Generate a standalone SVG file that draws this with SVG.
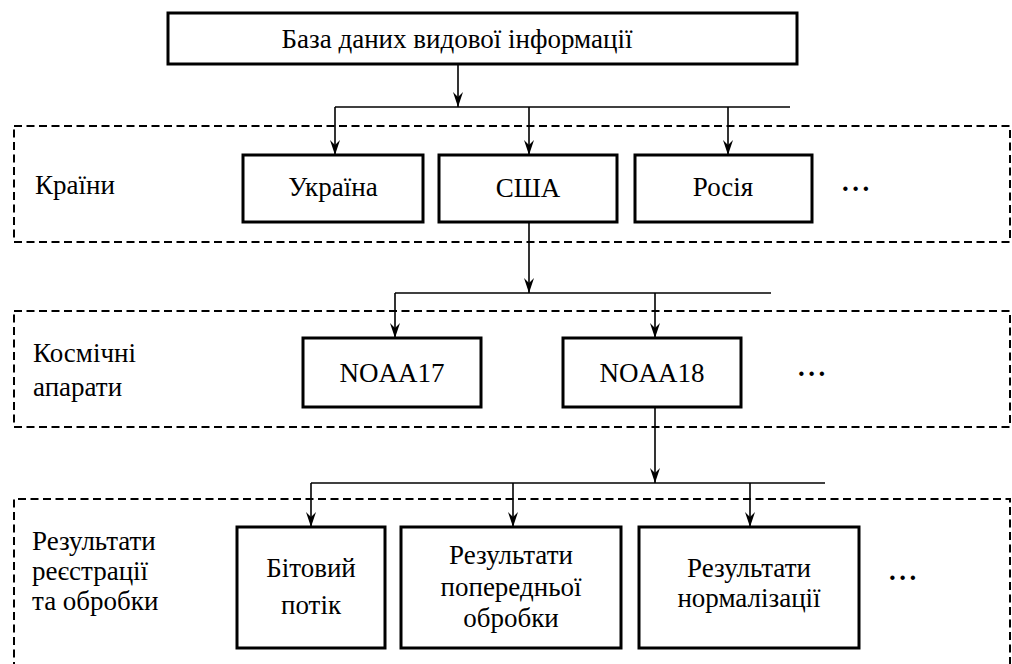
<svg xmlns="http://www.w3.org/2000/svg" width="1012" height="664" viewBox="0 0 1012 664">
<style>
text{font-family:"Liberation Serif","Times New Roman",serif;font-size:27px;fill:#000}
.c{text-anchor:middle}
.box{fill:#fff;stroke:#000;stroke-width:3}
.grp{fill:none;stroke:#000;stroke-width:2;stroke-dasharray:8 4.5}
.ln{fill:none;stroke:#000;stroke-width:1.6}
.dots{font-weight:bold;letter-spacing:3.5px}
</style>
<defs>
<marker id="ah" markerUnits="userSpaceOnUse" markerWidth="16" markerHeight="12" refX="15" refY="5" orient="auto" viewBox="0 0 16 10">
<path d="M0,0 L15,5 L0,10 L5,5 Z" fill="#000"/>
</marker>
</defs>
<rect width="1012" height="664" fill="#fff"/>
<g id="groups">
<rect class="grp" x="14" y="126" width="996" height="116"/>
<rect class="grp" x="14" y="311" width="996" height="116"/>
<path class="grp" d="M14,670 L14,499 L1010,499 L1010,670"/>
<text x="35" y="194">Країни</text>
<text x="33" y="362">Космічні</text>
<text x="33" y="396">апарати</text>
<text x="32" y="550">Результати</text>
<text x="32" y="580">реєстрації</text>
<text x="32" y="610">та обробки</text>
<text class="dots" x="842" y="191">...</text>
<text class="dots" x="798" y="376">...</text>
<text class="dots" x="889" y="580">...</text>
</g>
<g id="connectors">
<path class="ln" d="M458,64 L458,107" marker-end="url(#ah)"/>
<path class="ln" d="M335,107 L790,107"/>
<path class="ln" d="M335,107 L335,155" marker-end="url(#ah)"/>
<path class="ln" d="M529,107 L529,155" marker-end="url(#ah)"/>
<path class="ln" d="M728,107 L728,155" marker-end="url(#ah)"/>
<path class="ln" d="M529,222 L529,293" marker-end="url(#ah)"/>
<path class="ln" d="M395,293 L771,293"/>
<path class="ln" d="M395,293 L395,338" marker-end="url(#ah)"/>
<path class="ln" d="M655,293 L655,338" marker-end="url(#ah)"/>
<path class="ln" d="M655,407 L655,483" marker-end="url(#ah)"/>
<path class="ln" d="M311,483 L825,483"/>
<path class="ln" d="M311,483 L311,527" marker-end="url(#ah)"/>
<path class="ln" d="M513,483 L513,527" marker-end="url(#ah)"/>
<path class="ln" d="M750,483 L750,527" marker-end="url(#ah)"/>
</g>
<g id="db"><rect class="box" x="168" y="13" width="629" height="51"/><text class="c" x="457" y="48">База даних видової інформації</text></g>
<g id="ukraine"><rect class="box" x="243" y="155" width="180" height="67"/><text class="c" x="333" y="196">Україна</text></g>
<g id="usa"><rect class="box" x="439" y="155" width="178" height="67"/><text class="c" x="528" y="197">США</text></g>
<g id="russia"><rect class="box" x="635" y="155" width="177" height="67"/><text class="c" x="723" y="196">Росія</text></g>
<g id="noaa17"><rect class="box" x="303" y="338" width="178" height="69"/><text class="c" x="392" y="382">NOAA17</text></g>
<g id="noaa18"><rect class="box" x="563" y="338" width="178" height="69"/><text class="c" x="652" y="382">NOAA18</text></g>
<g id="bitstream"><rect class="box" x="237" y="527" width="148" height="121"/><text class="c" x="311" y="577">Бітовий</text><text class="c" x="311" y="614">потік</text></g>
<g id="preproc"><rect class="box" x="401" y="527" width="220" height="121"/><text class="c" x="511" y="564">Результати</text><text class="c" x="511" y="596">попередньої</text><text class="c" x="511" y="627">обробки</text></g>
<g id="norm"><rect class="box" x="639" y="527" width="220" height="121"/><text class="c" x="749" y="577">Результати</text><text class="c" x="749" y="607">нормалізації</text></g>
</svg>
